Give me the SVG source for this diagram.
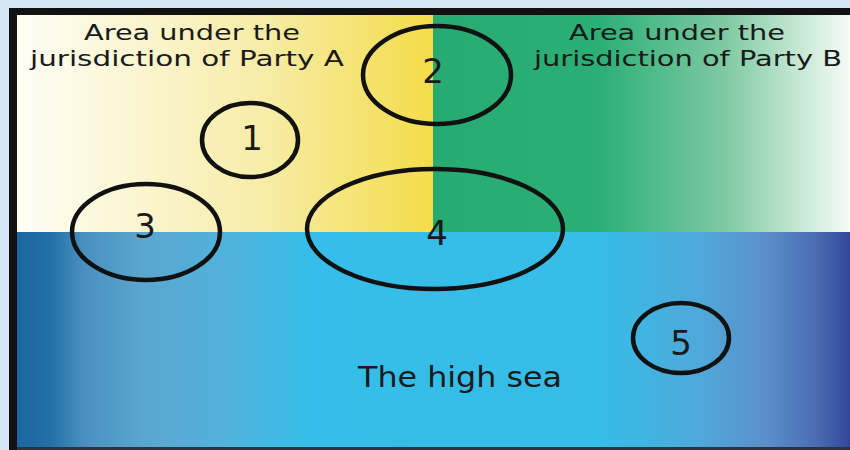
<svg xmlns="http://www.w3.org/2000/svg" width="850" height="450" viewBox="0 0 850 450">
<defs>
<linearGradient id="gYellow" gradientUnits="userSpaceOnUse" x1="17" y1="0" x2="433" y2="0">
<stop offset="0" stop-color="#fffef6"/>
<stop offset="0.3" stop-color="#fbf5cf"/>
<stop offset="0.6" stop-color="#f7eca6"/>
<stop offset="0.85" stop-color="#f5e26c"/>
<stop offset="1" stop-color="#f4dd48"/>
</linearGradient>
<linearGradient id="gGreen" gradientUnits="userSpaceOnUse" x1="433" y1="0" x2="850" y2="0">
<stop offset="0" stop-color="#27ab70"/>
<stop offset="0.4" stop-color="#2caf75"/>
<stop offset="0.7" stop-color="#7fcaa2"/>
<stop offset="0.88" stop-color="#c6e8d4"/>
<stop offset="1" stop-color="#f6fbf6"/>
</linearGradient>
<linearGradient id="gBlue" gradientUnits="userSpaceOnUse" x1="17" y1="0" x2="850" y2="0">
<stop offset="0" stop-color="#1c67a0"/>
<stop offset="0.04" stop-color="#2170a6"/>
<stop offset="0.08" stop-color="#4a8fbf"/>
<stop offset="0.15" stop-color="#5aa6d0"/>
<stop offset="0.25" stop-color="#52b2dc"/>
<stop offset="0.35" stop-color="#35bee9"/>
<stop offset="0.7" stop-color="#36bde8"/>
<stop offset="0.82" stop-color="#4fa8da"/>
<stop offset="0.9" stop-color="#5b8fca"/>
<stop offset="0.96" stop-color="#4b6cb3"/>
<stop offset="1" stop-color="#33479a"/>
</linearGradient>
</defs>
<style>
.ring{fill:none;stroke:#111;stroke-width:4.5}
.lbl{font-family:"DejaVu Sans","Noto Sans",sans-serif;fill:#1a1a1a;text-anchor:middle}
.num{font-family:"DejaVu Sans","Noto Sans",sans-serif;fill:#1a1a1a;text-anchor:middle;font-size:34px}
</style>
<rect x="0" y="0" width="850" height="450" fill="#d6e7f3"/>
<rect x="9" y="8" width="841" height="442" fill="#111"/>
<rect x="17" y="15" width="416" height="217" fill="url(#gYellow)"/>
<rect x="433" y="15" width="417" height="217" fill="url(#gGreen)"/>
<rect x="17" y="232" width="833" height="215" fill="url(#gBlue)"/>
<rect x="17" y="447" width="833" height="3" fill="#2a3340"/>
<g id="label-party-a">
<text class="lbl" font-size="22" x="192" y="40" textLength="216" lengthAdjust="spacingAndGlyphs">Area under the</text>
<text class="lbl" font-size="22" x="187" y="66" textLength="314" lengthAdjust="spacingAndGlyphs">jurisdiction of Party A</text>
</g>
<g id="label-party-b">
<text class="lbl" font-size="22" x="677" y="40" textLength="216" lengthAdjust="spacingAndGlyphs">Area under the</text>
<text class="lbl" font-size="22" x="688" y="66" textLength="308" lengthAdjust="spacingAndGlyphs">jurisdiction of Party B</text>
</g>
<g id="label-high-sea">
<text class="lbl" font-size="29" x="460" y="387" textLength="204" lengthAdjust="spacingAndGlyphs">The high sea</text>
</g>
<g id="zone-1">
<ellipse class="ring" cx="250" cy="140" rx="48" ry="37"/>
<text class="num" x="252" y="150">1</text>
</g>
<g id="zone-2">
<ellipse class="ring" cx="437" cy="75" rx="74" ry="49"/>
<text class="num" x="433" y="83">2</text>
</g>
<g id="zone-3">
<ellipse class="ring" cx="146" cy="232" rx="74" ry="48"/>
<text class="num" x="145" y="238">3</text>
</g>
<g id="zone-4">
<ellipse class="ring" cx="435" cy="229" rx="128" ry="60"/>
<text class="num" x="437" y="245">4</text>
</g>
<g id="zone-5">
<ellipse class="ring" cx="681" cy="338" rx="48" ry="35"/>
<text class="num" x="681" y="355">5</text>
</g>
</svg>
